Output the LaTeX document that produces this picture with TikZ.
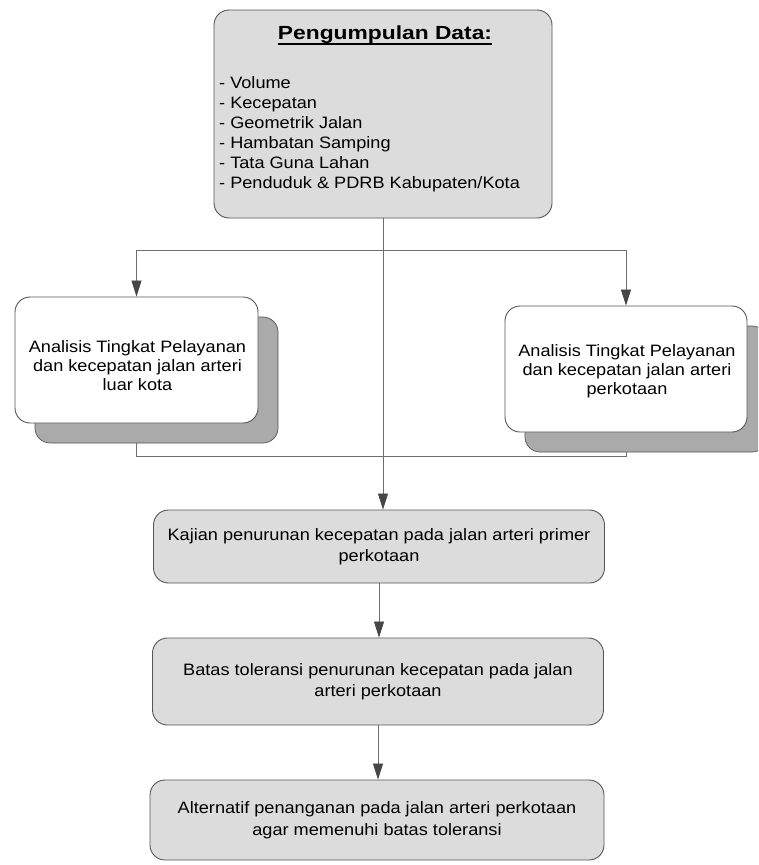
\documentclass[tikz,border=0pt]{standalone}
\usepackage{fontspec}
\setmainfont[FakeStretch=1.1]{Liberation Sans}
\newfontfamily\titlef[FakeStretch=1.2]{Liberation Sans}
\usetikzlibrary{arrows.meta,calc}
\definecolor{boxgray}{RGB}{220,220,220}
\definecolor{shadowgray}{RGB}{170,170,170}
\definecolor{edgegray}{RGB}{85,85,85}
\definecolor{linegray}{RGB}{110,110,110}
\definecolor{tipgray}{RGB}{70,70,70}
\tikzset{
  txt/.style={font=\fontsize{16.5}{21.5}\selectfont, align=center},
  sidetxt/.style={font=\fontsize{16.5}{19}\selectfont, align=center, inner sep=0pt},
  graybox/.style={draw=edgegray, line width=0.9pt, fill=boxgray, rounded corners=15pt, inner sep=0pt},
  whitebox/.style={draw=edgegray, line width=0.9pt, fill=white, rounded corners=15pt, inner sep=0pt},
  shadowbox/.style={draw=edgegray, line width=0.7pt, fill=shadowgray, rounded corners=15pt, inner sep=0pt},
  conn/.style={draw=linegray, line width=0.7pt},
  arr/.style={conn, -{Triangle[width=10pt,length=16pt,color=tipgray]}}
}
\begin{document}
\begin{tikzpicture}[x=1pt,y=-1pt]
\useasboundingbox (0,0) rectangle (758,865);
\clip (0,0) rectangle (758,865);
\fill[white] (0,0) rectangle (758,865);

% top box
\node[graybox, minimum width=338pt, minimum height=208pt] (top) at (383,114) {};
\node[inner sep=0pt, font=\titlef\fontsize{19}{22}\selectfont\bfseries] (toptitle) at (385,35) {Pengumpulan Data:};
\draw[line width=1.6pt] ([yshift=-4pt]toptitle.base west) -- ([yshift=-4pt]toptitle.base east);
\node[inner sep=0pt, anchor=north west, align=left, font=\fontsize{16.5}{20}\selectfont] (toplist) at (219,76)
  {- Volume\\- Kecepatan\\- Geometrik Jalan\\- Hambatan Samping\\- Tata Guna Lahan\\- Penduduk \& PDRB Kabupaten/Kota};

% shadows
\node[shadowbox, minimum width=243pt, minimum height=126pt] (lsh) at (156.5,380) {};
\node[shadowbox, minimum width=242pt, minimum height=126pt] (rsh) at (646,389) {};

% side boxes
\node[whitebox, minimum width=243pt, minimum height=126pt] (left) at (136.5,360) {};
\node[sidetxt] (lefttxt) at (137.5,366)
  {Analisis Tingkat Pelayanan\\dan kecepatan jalan arteri\\luar kota};
\node[whitebox, minimum width=242pt, minimum height=126pt] (right) at (626,369) {};
\node[sidetxt] (righttxt) at (627,371)
  {Analisis Tingkat Pelayanan\\dan kecepatan jalan arteri\\perkotaan};

% lower boxes
\node[graybox, txt, minimum width=451pt, minimum height=73pt] (kaj) at (379,546.5)
  {Kajian penurunan kecepatan pada jalan arteri primer\\perkotaan};
\node[graybox, txt, minimum width=451pt, minimum height=87pt] (bat) at (378,681.5)
  {Batas toleransi penurunan kecepatan pada jalan\\arteri perkotaan};
\node[graybox, txt, minimum width=454pt, minimum height=80pt] (alt) at (377,820)
  {Alternatif penanganan pada jalan arteri perkotaan\\agar memenuhi batas toleransi};

% connectors
\coordinate (split) at ($(top.south)+(0,32)$);
\coordinate (join) at ($(top.south)+(0,238)$);
\draw[arr] (top.south) -- (top.south |- kaj.north);
\draw[arr] (split) -| (left.north);
\draw[arr] (split) -| (right.north);
\draw[conn] (left.south |- lsh.south) |- (join);
\draw[conn] (right.south |- rsh.south) |- (join);
\draw[arr] (kaj.south) -- (kaj.south |- bat.north);
\draw[arr] (bat.south) -- (bat.south |- alt.north);
\end{tikzpicture}
\end{document}
